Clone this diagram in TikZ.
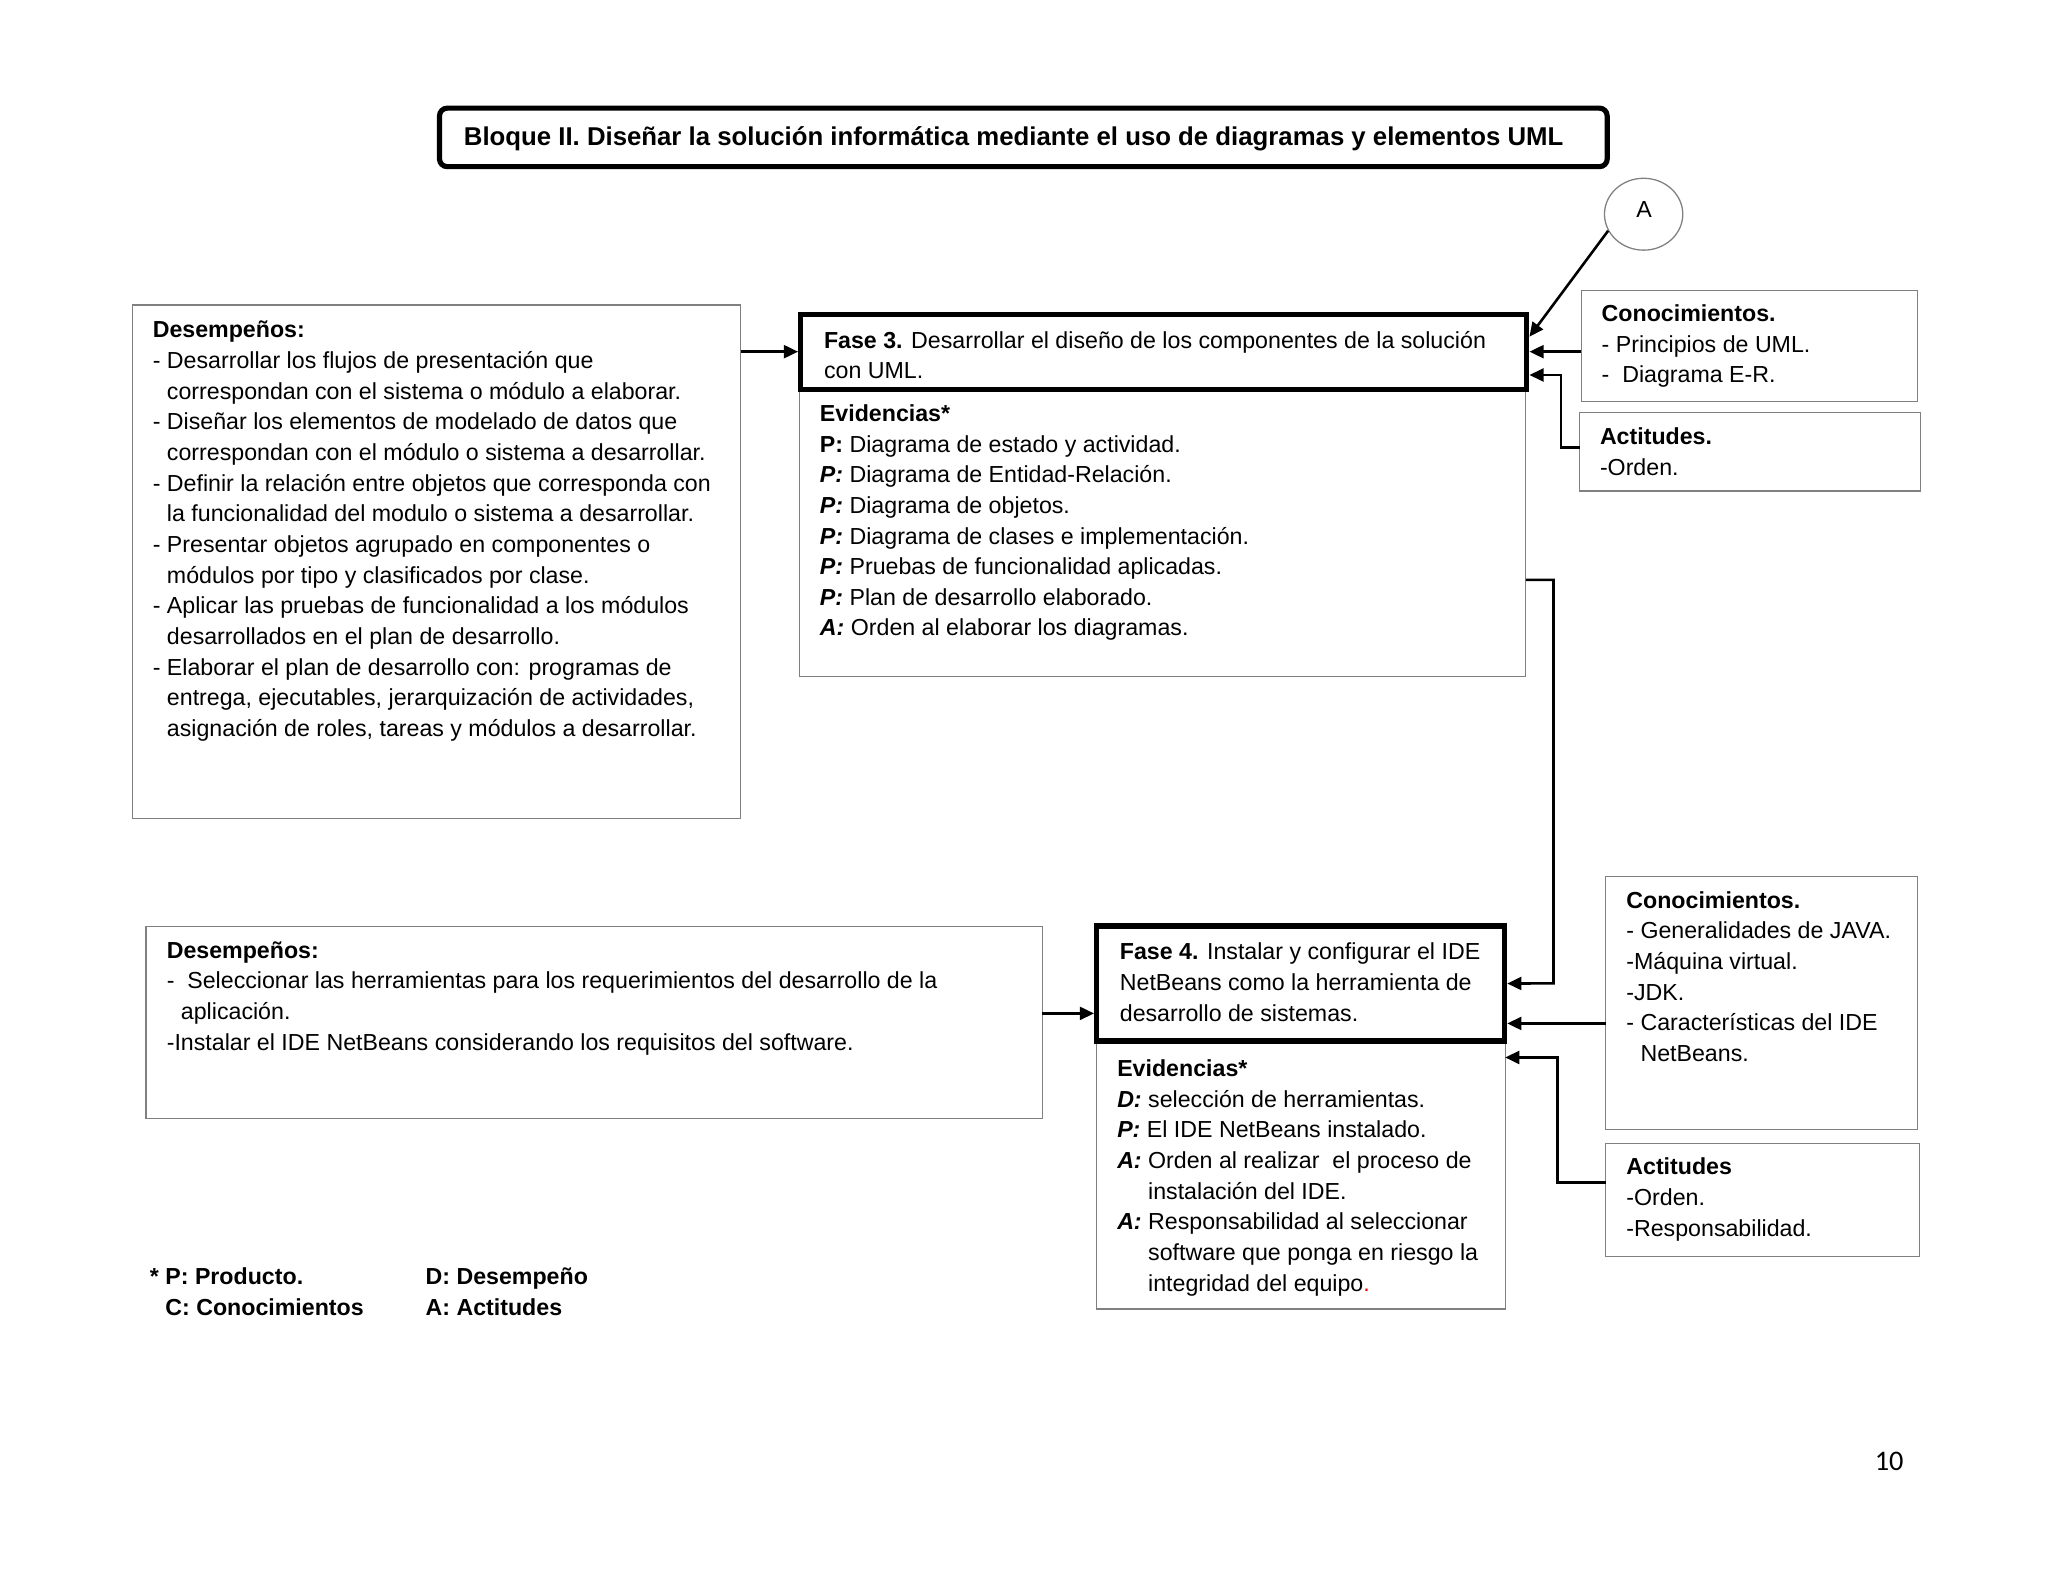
\documentclass[tikz,border=0pt]{standalone}
\usepackage{fontspec}
\setmainfont{Liberation Sans}
\newfontfamily\pnfont{Carlito}
\usetikzlibrary{arrows.meta,shapes.geometric}
\newcommand\ind{\hphantom{-\ }}
\newcommand\indA{\hphantom{\textbf{\textit{A:}}\ }}
\newcommand\bi[1]{\textbf{\textit{#1}}}
% style, name, x1, y1, x2, y2 (border centre lines, in reference pixels)
\newcommand\boxnode[6]{%
  \node[#1, anchor=north west, minimum width={(#5-#3)*0.50702pt},
        minimum height={(#6-#4)*0.50702pt}] (#2) at (#3,#4) {};}
\begin{document}
\begin{tikzpicture}[x=0.50702pt, y=-0.50702pt,
  gbox/.style={draw=black!50, line width=0.5pt, rectangle, inner sep=0pt, outer sep=0pt},
  fbox/.style={draw=black, line width=2pt, rectangle, inner sep=0pt, outer sep=0pt},
  tbox/.style={draw=black, line width=2pt, rectangle, rounded corners=3pt, inner sep=0pt, outer sep=0pt},
  circ/.style={draw=black!50, line width=0.5pt, ellipse, inner sep=0pt, minimum width=30.4pt, minimum height=27.9pt},
  txt/.style={font=\fontsize{9}{11.9}\selectfont, align=left, inner sep=0pt, anchor=north west,
              yshift=6.2pt, execute at begin node=\rule{0pt}{8pt}},
  arr/.style={draw=black, line width=1pt, -{Triangle[length=5.5pt,width=5pt]}},
]
\useasboundingbox (0,0) rectangle (1568,1211);

% ---- boxes ----
\boxnode{tbox}{title}{336.5}{82.8}{1230.5}{127.6}
\node[circ] (A) at (1258.4,164) {};
\boxnode{gbox}{L1}{101.6}{233.5}{567.1}{626.5}
\boxnode{gbox}{E3}{612}{298}{1168.2}{518.1}
\boxnode{fbox}{F3}{613}{240.5}{1169}{298}
\boxnode{gbox}{C1}{1210.6}{222.6}{1468.2}{307.4}
\boxnode{gbox}{T1}{1209.3}{315.7}{1470.3}{376}
\boxnode{gbox}{L2}{111.7}{709.1}{798}{856.3}
\boxnode{gbox}{E4}{839.7}{797}{1152.4}{1002.1}
\boxnode{fbox}{F4}{839.6}{709}{1152}{797}
\boxnode{gbox}{C2}{1229.4}{671.3}{1468.3}{864.7}
\boxnode{gbox}{T2}{1229.4}{875.4}{1469.8}{962}

% ---- texts ----
\node[font=\bfseries\fontsize{10}{12}\selectfont, anchor=base west, inner sep=0pt] (titletxt) at (354.8,111.5)
  {Bloque II. Diseñar la solución informática mediante el uso de diagramas y elementos UML};
\node[font=\fontsize{9}{11}\selectfont, anchor=base, inner sep=0pt] (Atxt) at (1258.8,166.4) {A};

\node[txt] (tL1) at (116.6,257.8) {\textbf{Desempeños:}\\
- Desarrollar los flujos de presentación que\\
\ind correspondan con el sistema o módulo a elaborar.\\
- Diseñar los elementos de modelado de datos que\\
\ind correspondan con el módulo o sistema a desarrollar.\\
- Definir la relación entre objetos que corresponda con\\
\ind la funcionalidad del modulo o sistema a desarrollar.\\
- Presentar objetos agrupado en componentes o\\
\ind módulos por tipo y clasificados por clase.\\
- Aplicar las pruebas de funcionalidad a los módulos\\
\ind desarrollados en el plan de desarrollo.\\
- Elaborar el plan de desarrollo con: programas de\\
\ind entrega, ejecutables, jerarquización de actividades,\\
\ind asignación de roles, tareas y módulos a desarrollar.};

\node[txt] (tF3) at (630.5,265.4) {\textbf{Fase 3.} Desarrollar el diseño de los componentes de la solución\\
con UML.};

\node[txt] (tE3) at (627.4,321.6) {\textbf{Evidencias*}\\
\textbf{P:} Diagrama de estado y actividad.\\
\bi{P:} Diagrama de Entidad-Relación.\\
\bi{P:} Diagrama de objetos.\\
\bi{P:} Diagrama de clases e implementación.\\
\bi{P:} Pruebas de funcionalidad aplicadas.\\
\bi{P:} Plan de desarrollo elaborado.\\
\bi{A:} Orden al elaborar los diagramas.};

\node[txt] (tC1) at (1225.9,245) {\textbf{Conocimientos.}\\
- Principios de UML.\\
-\ \ Diagrama E-R.};

\node[txt] (tT1) at (1224.6,339.5) {\textbf{Actitudes.}\\
-Orden.};

\node[txt] (tL2) at (127.3,732.6) {\textbf{Desempeños:}\\
-\ \ Seleccionar las herramientas para los requerimientos del desarrollo de la\\
\ind aplicación.\\
-Instalar el IDE NetBeans considerando los requisitos del software.};

\node[txt] (tF4) at (857,733.8) {\textbf{Fase 4.} Instalar y configurar el IDE\\
NetBeans como la herramienta de\\
desarrollo de sistemas.};

\node[txt] (tE4) at (855,823.1) {\textbf{Evidencias*}\\
\bi{D:} selección de herramientas.\\
\bi{P:} El IDE NetBeans instalado.\\
\bi{A:} Orden al realizar\ \ el proceso de\\
\indA instalación del IDE.\\
\bi{A:} Responsabilidad al seleccionar\\
\indA software que ponga en riesgo la\\
\indA integridad del equipo{\color{red}.}};

\node[txt] (tC2) at (1244.8,694.3) {\textbf{Conocimientos.}\\
- Generalidades de JAVA.\\
-Máquina virtual.\\
-JDK.\\
- Características del IDE\\
\ind NetBeans.};

\node[txt] (tT2) at (1244.8,898.4) {\textbf{Actitudes}\\
-Orden.\\
-Responsabilidad.};

\node[txt] (lg1) at (114.4,982.5) {\textbf{* P: Producto.}\\
\textbf{\hphantom{* }C: Conocimientos}};
\node[txt] (lg2) at (325.5,982.5) {\textbf{D: Desempeño}\\
\textbf{A: Actitudes}};

\node[font=\pnfont\fontsize{11}{13}\selectfont, anchor=base west, inner sep=0pt] (pn) at (1435,1125.6) {10};

% ---- connectors ----
\draw[arr] (L1.east |- F3.west) -- ([xshift=-1pt]F3.west);
\draw[arr] (A.205) -- ([xshift=1pt,yshift=5.8pt]F3.east);
\draw[arr] (C1.west |- F3.east) -- ([xshift=1pt]F3.east);
\coordinate (k1) at (1195.2,342.5);
\draw[arr] (T1.west |- k1) -- (k1) |- ([xshift=1pt,yshift=-9.05pt]F3.east);
\coordinate (k2) at (1189.4,752.9);
\draw[arr] ([yshift=-18.2pt]E3.east) -| (k2) -- ([xshift=1pt]F4.east);
\coordinate (k3) at ([xshift=-1pt,yshift=-11.6pt]F4.west);
\draw[arr] (L2.east |- k3) -- (k3);
\coordinate (k4) at ([xshift=1pt,yshift=-15.5pt]F4.east);
\draw[arr] (C2.west |- k4) -- (k4);
\coordinate (k5) at (1192.5,905.3);
\coordinate (k6) at ([yshift=45.6pt]E4.east);
\draw[arr] (T2.west |- k5) -- (k5) |- (k6);
\end{tikzpicture}
\end{document}
